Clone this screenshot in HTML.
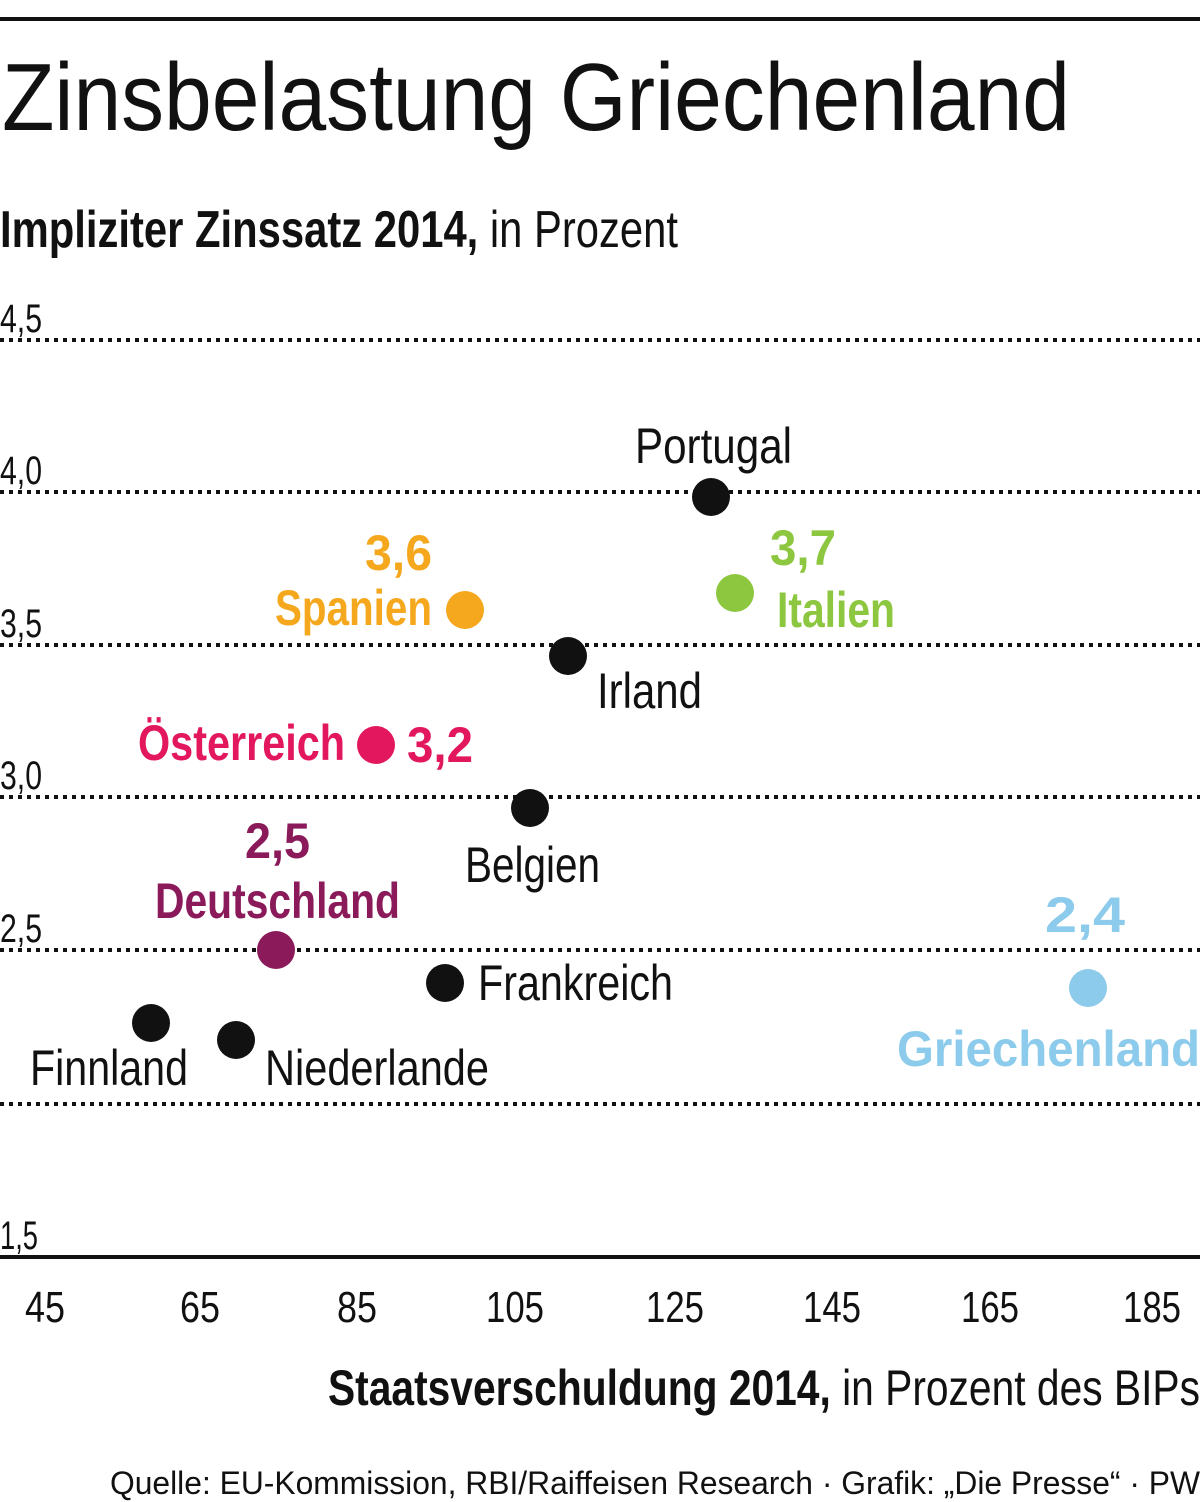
<!DOCTYPE html>
<html><head><meta charset="utf-8"><style>
html,body{margin:0;padding:0;background:#fff;}
svg{display:block}
text{font-family:"Liberation Sans Narrow","Liberation Sans",sans-serif;}
</style></head><body>
<svg width="1200" height="1502" viewBox="0 0 1200 1502" xmlns="http://www.w3.org/2000/svg">
<rect width="1200" height="1502" fill="#fff"/>
<line x1="0" y1="19" x2="1200" y2="19" stroke="#111" stroke-width="4"/>
<text x="2" y="130" font-size="96" fill="#111" textLength="1068" lengthAdjust="spacingAndGlyphs">Zinsbelastung Griechenland</text>
<text x="0" y="247" font-size="52" fill="#111" textLength="678" lengthAdjust="spacingAndGlyphs"><tspan font-weight="bold">Impliziter Zinssatz 2014,</tspan> in Prozent</text>
<g stroke="#111" stroke-width="4" stroke-dasharray="4 5">
<line x1="0" y1="340" x2="1200" y2="340"/>
<line x1="0" y1="492" x2="1200" y2="492"/>
<line x1="0" y1="645" x2="1200" y2="645"/>
<line x1="0" y1="797" x2="1200" y2="797"/>
<line x1="0" y1="950" x2="1200" y2="950"/>
<line x1="0" y1="1104" x2="1200" y2="1104"/>
</g>
<line x1="0" y1="1257" x2="1200" y2="1257" stroke="#111" stroke-width="4"/>
<g font-size="40" fill="#111">
<text x="0" y="332" textLength="42" lengthAdjust="spacingAndGlyphs">4,5</text>
<text x="0" y="484" textLength="42" lengthAdjust="spacingAndGlyphs">4,0</text>
<text x="0" y="637" textLength="42" lengthAdjust="spacingAndGlyphs">3,5</text>
<text x="0" y="789" textLength="42" lengthAdjust="spacingAndGlyphs">3,0</text>
<text x="0" y="942" textLength="42" lengthAdjust="spacingAndGlyphs">2,5</text>
<text x="0" y="1249" textLength="38" lengthAdjust="spacingAndGlyphs">1,5</text>
</g>
<g font-size="44" fill="#111">
<text x="25" y="1322" textLength="40" lengthAdjust="spacingAndGlyphs">45</text>
<text x="180" y="1322" textLength="40" lengthAdjust="spacingAndGlyphs">65</text>
<text x="337" y="1322" textLength="40" lengthAdjust="spacingAndGlyphs">85</text>
<text x="486" y="1322" textLength="58" lengthAdjust="spacingAndGlyphs">105</text>
<text x="646" y="1322" textLength="58" lengthAdjust="spacingAndGlyphs">125</text>
<text x="803" y="1322" textLength="58" lengthAdjust="spacingAndGlyphs">145</text>
<text x="961" y="1322" textLength="58" lengthAdjust="spacingAndGlyphs">165</text>
<text x="1123" y="1322" textLength="58" lengthAdjust="spacingAndGlyphs">185</text>
</g>
<g fill="#111">
<circle cx="711" cy="497" r="19"/><circle cx="568" cy="656" r="19"/><circle cx="530" cy="808" r="19"/>
<circle cx="445" cy="983" r="19"/><circle cx="151" cy="1023" r="19"/><circle cx="236" cy="1040" r="19"/>
</g>
<circle cx="465" cy="610" r="19" fill="#f5a81e"/>
<circle cx="735" cy="593" r="19" fill="#8dc63f"/>
<circle cx="376" cy="745" r="19" fill="#e2175d"/>
<circle cx="276" cy="950" r="19" fill="#8a1a59"/>
<circle cx="1088" cy="988" r="19" fill="#8ccbeb"/>
<g font-size="50" fill="#111">
<text x="635" y="463" textLength="157" lengthAdjust="spacingAndGlyphs">Portugal</text>
<text x="597" y="708" textLength="105" lengthAdjust="spacingAndGlyphs">Irland</text>
<text x="465" y="882" textLength="135" lengthAdjust="spacingAndGlyphs">Belgien</text>
<text x="478" y="1000" textLength="195" lengthAdjust="spacingAndGlyphs">Frankreich</text>
<text x="30" y="1085" textLength="158" lengthAdjust="spacingAndGlyphs">Finnland</text>
<text x="265" y="1085" textLength="224" lengthAdjust="spacingAndGlyphs">Niederlande</text>
</g>
<g font-size="50" font-weight="bold">
<text x="365" y="570" fill="#f5a81e" textLength="67" lengthAdjust="spacingAndGlyphs">3,6</text>
<text x="275" y="625" fill="#f5a81e" textLength="157" lengthAdjust="spacingAndGlyphs">Spanien</text>
<text x="770" y="565" fill="#8dc63f" textLength="66" lengthAdjust="spacingAndGlyphs">3,7</text>
<text x="777" y="627" fill="#8dc63f" textLength="118" lengthAdjust="spacingAndGlyphs">Italien</text>
<text x="138" y="760" fill="#e2175d" textLength="207" lengthAdjust="spacingAndGlyphs">Österreich</text>
<text x="407" y="762" fill="#e2175d" textLength="66" lengthAdjust="spacingAndGlyphs">3,2</text>
<text x="245" y="858" fill="#8a1a59" textLength="65" lengthAdjust="spacingAndGlyphs">2,5</text>
<text x="155" y="918" fill="#8a1a59" textLength="245" lengthAdjust="spacingAndGlyphs">Deutschland</text>
<text x="1045" y="932" fill="#8ccbeb" textLength="80" lengthAdjust="spacingAndGlyphs">2,4</text>
<text x="897" y="1066" fill="#8ccbeb" textLength="303" lengthAdjust="spacingAndGlyphs">Griechenland</text>
</g>
<text x="328" y="1405" font-size="50" fill="#111" textLength="872" lengthAdjust="spacingAndGlyphs"><tspan font-weight="bold">Staatsverschuldung 2014,</tspan> in Prozent des BIPs</text>
<text x="110" y="1494" font-size="32" fill="#111" textLength="1090" lengthAdjust="spacingAndGlyphs">Quelle: EU-Kommission, RBI/Raiffeisen Research · Grafik: „Die Presse“ · PW</text>
</svg>
</body></html>
